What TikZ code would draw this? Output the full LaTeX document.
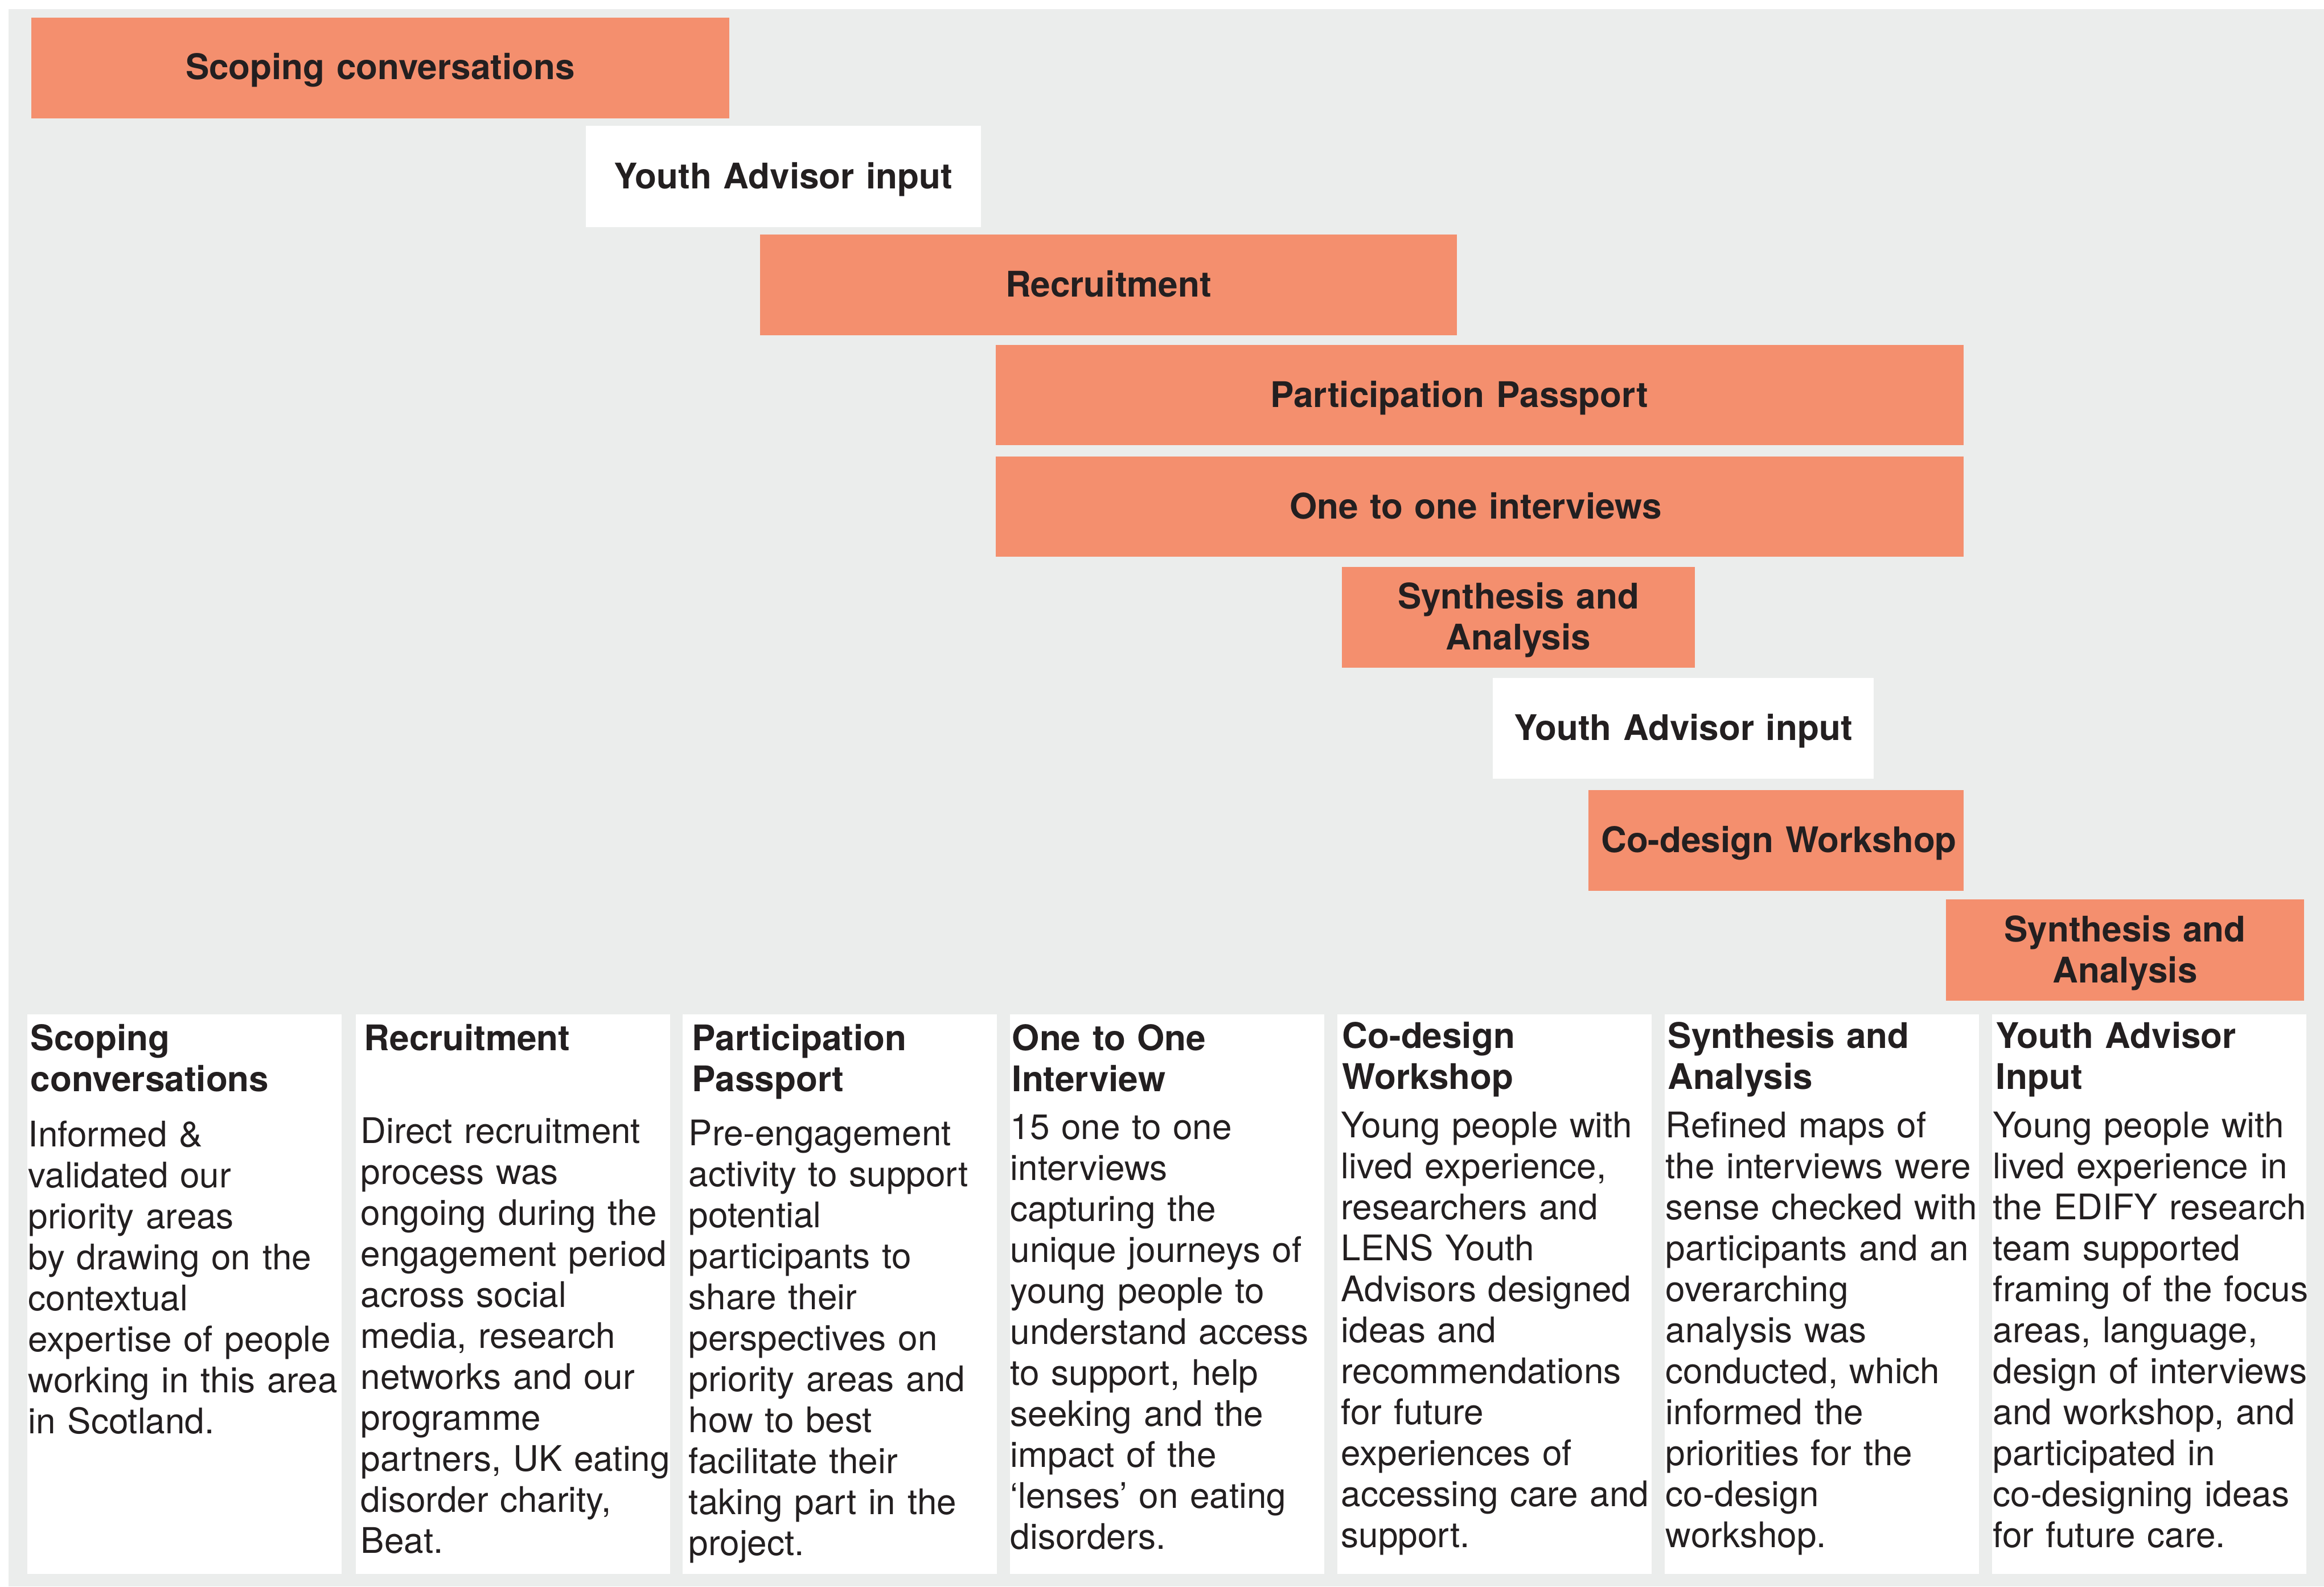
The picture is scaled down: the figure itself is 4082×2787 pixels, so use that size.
\documentclass[tikz,border=0pt]{standalone}
\usepackage{fontspec}
\setmainfont{TeX Gyre Heros}
\definecolor{panelgrey}{HTML}{EBEDEC}
\definecolor{barorange}{HTML}{F48F6E}
\definecolor{ink}{HTML}{231F20}
\tikzset{
  bar/.style={fill=barorange, draw=none, inner sep=0pt},
  advisorbar/.style={bar, fill=white},
  bartext/.style={anchor=base, inner sep=0pt, text width=200pt, align=center,
    text=ink, font=\bfseries\fontsize{15.5pt}{18pt}\selectfont},
  card/.style={fill=white, draw=none, inner sep=0pt, anchor=north west,
    minimum width=138pt, minimum height=245.75pt},
  cardtitle/.style={anchor=base west, inner sep=0pt, text width=160pt,
    align=left, text=ink, font=\bfseries\fontsize{15.5pt}{18pt}\selectfont},
  cardbody/.style={anchor=base west, inner sep=0pt, text width=160pt,
    align=left, text=ink, font=\fontsize{15.5pt}{18pt}\selectfont},
}
\begin{document}
\begin{tikzpicture}[x=0.25pt, y=-0.25pt]
\useasboundingbox (0,0) rectangle (4082,2787);
\fill[panelgrey] (15,16) rectangle (4082,2787);

% timeline bars
\node[bar, minimum width=306.5pt, minimum height=44.25pt] (scoping) at (668,119.5) {};
\node[advisorbar, minimum width=173.5pt, minimum height=44.5pt] (advisorA) at (1376,310) {};
\node[bar, minimum width=306pt, minimum height=44.25pt] (recruit) at (1947,500.5) {};
\node[bar, minimum width=425pt, minimum height=44pt] (passport) at (2599,694) {};
\node[bar, minimum width=425pt, minimum height=44pt] (interviews) at (2599,890) {};
\node[bar, minimum width=155pt, minimum height=44.25pt] (synthA) at (2667,1084.5) {};
\node[advisorbar, minimum width=167.25pt, minimum height=44.25pt] (advisorB) at (2956.5,1279.5) {};
\node[bar, minimum width=164.75pt, minimum height=44.25pt] (workshop) at (3119.5,1476.5) {};
\node[bar, minimum width=157.25pt, minimum height=44.5pt] (synthB) at (3732.5,1669) {};

% bar labels, set on a common baseline
\node[bartext] (scopingL) at ([yshift=-5pt]scoping.center) {Scoping conversations};
\node[bartext] (advisorAL) at ([yshift=-5.25pt]advisorA.center) {Youth Advisor input};
\node[bartext] (recruitL) at ([yshift=-5.25pt]recruit.center) {Recruitment};
\node[bartext] (passportL) at ([xshift=-9pt, yshift=-5.25pt]passport.center) {Participation Passport};
\node[bartext] (interviewsL) at ([xshift=-1.75pt, yshift=-5.25pt]interviews.center) {One to one interviews};
\node[bartext] (synthAL) at ([yshift=3.85pt]synthA.center) {Synthesis and\\Analysis};
\node[bartext] (advisorBL) at ([yshift=-5.25pt]advisorB.center) {Youth Advisor input};
\node[bartext] (workshopL) at ([xshift=1.25pt, yshift=-5.25pt]workshop.center) {Co-design Workshop};
\node[bartext] (synthBL) at ([yshift=3.6pt]synthB.center) {Synthesis and\\Analysis};

% description cards
\node[card] (cardA) at (47,1781) {};
\node[card] (cardB) at (624,1781) {};
\node[card] (cardC) at (1198,1781) {};
\node[card] (cardD) at (1773,1781) {};
\node[card] (cardE) at (2348,1781) {};
\node[card] (cardF) at (2923,1781) {};
\node[card] (cardG) at (3498,1781) {};

\node[cardtitle] (titleA) at (53,1845) {Scoping\\conversations};
\node[cardbody] (bodyA) at (49,2014) {Informed \&\\validated our\\priority areas\\by drawing on the\\contextual\\expertise of people\\working in this area\\in Scotland.};

\node[cardtitle] (titleB) at (639,1845) {Recruitment};
\node[cardbody] (bodyB) at (633,2008) {Direct recruitment\\process was\\ongoing during the\\engagement period\\across social\\media, research\\networks and our\\programme\\partners, UK eating\\disorder charity,\\Beat.};

\node[cardtitle] (titleC) at (1215,1845) {Participation\\Passport};
\node[cardbody] (bodyC) at (1209,2012) {Pre-engagement\\activity to support\\potential\\participants to\\share their\\perspectives on\\priority areas and\\how to best\\facilitate their\\taking part in the\\project.};

\node[cardtitle] (titleD) at (1777,1845) {One to One\\Interview};
\node[cardbody] (bodyD) at (1774,2001) {15 one to one\\interviews\\capturing the\\unique journeys of\\young people to\\understand access\\to support, help\\seeking and the\\impact of the\\‘lenses’ on eating\\disorders.};

\node[cardtitle] (titleE) at (2357,1841) {Co-design\\Workshop};
\node[cardbody] (bodyE) at (2355,1998) {Young people with\\lived experience,\\researchers and\\LENS Youth\\Advisors designed\\ideas and\\recommendations\\for future\\experiences of\\accessing care and\\support.};

\node[cardtitle] (titleF) at (2929,1841) {Synthesis and\\Analysis};
\node[cardbody] (bodyF) at (2925,1998) {Refined maps of\\the interviews were\\sense checked with\\participants and an\\overarching\\analysis was\\conducted, which\\informed the\\priorities for the\\co-design\\workshop.};

\node[cardtitle] (titleG) at (3505,1841) {Youth Advisor\\Input};
\node[cardbody] (bodyG) at (3500,1998) {Young people with\\lived experience in\\the EDIFY research\\team supported\\framing of the focus\\areas, language,\\design of interviews\\and workshop, and\\participated in\\co-designing ideas\\for future care.};
\end{tikzpicture}
\end{document}
